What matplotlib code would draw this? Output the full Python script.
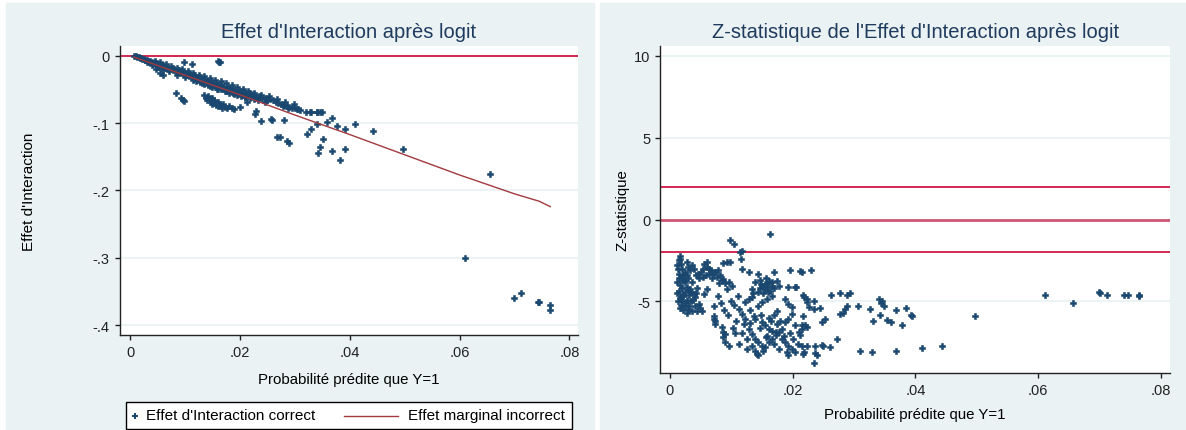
import matplotlib
matplotlib.use('Agg')
import matplotlib.pyplot as plt
from matplotlib.patches import Rectangle
from matplotlib.lines import Line2D
import numpy as np

plt.rcParams['font.family'] = ['Liberation Sans', 'DejaVu Sans']

# ---- left panel: interaction effect vs predicted probability ----
band_x = [0.0007, 0.0010, 0.0013, 0.0016, 0.0018, 0.0020, 0.0022, 0.0025, 0.0027, 0.0030,
          0.0032, 0.0035, 0.0037, 0.0040, 0.0042, 0.0045, 0.0047, 0.0050, 0.0052, 0.0055,
          0.0058, 0.0060, 0.0063, 0.0066, 0.0068, 0.0070, 0.0073, 0.0076, 0.0078, 0.0080,
          0.0083, 0.0086, 0.0088, 0.0090, 0.0093, 0.0096, 0.0098, 0.0100, 0.0103, 0.0106,
          0.0108, 0.0110, 0.0113, 0.0116, 0.0118, 0.0120, 0.0123, 0.0126, 0.0128, 0.0130,
          0.0133, 0.0136, 0.0138, 0.0140, 0.0143, 0.0146, 0.0148, 0.0150, 0.0153, 0.0156,
          0.0158, 0.0160, 0.0163, 0.0166, 0.0168, 0.0170, 0.0173, 0.0176, 0.0178, 0.0180,
          0.0183, 0.0186, 0.0188, 0.0190, 0.0193, 0.0196, 0.0198, 0.0200, 0.0203, 0.0206,
          0.0208, 0.0210, 0.0213, 0.0216, 0.0218, 0.0220, 0.0223, 0.0226, 0.0230, 0.0235,
          0.0240, 0.0245, 0.0250, 0.0255, 0.0260, 0.0265, 0.0270, 0.0275, 0.0280, 0.0285,
          0.0290, 0.0295, 0.0300, 0.0305, 0.0310, 0.0320, 0.0330, 0.0340, 0.0345]
band_y = [-0.000, -0.001, -0.002, -0.002, -0.004, -0.003, -0.005, -0.005, -0.007, -0.006,
          -0.008, -0.009, -0.008, -0.010, -0.012, -0.011, -0.013, -0.014, -0.012, -0.015,
          -0.016, -0.014, -0.017, -0.018, -0.016, -0.019, -0.020, -0.018, -0.021, -0.019,
          -0.022, -0.024, -0.021, -0.023, -0.025, -0.024, -0.027, -0.025, -0.028, -0.026,
          -0.030, -0.028, -0.031, -0.029, -0.033, -0.031, -0.034, -0.032, -0.036, -0.034,
          -0.037, -0.035, -0.039, -0.037, -0.040, -0.038, -0.042, -0.040, -0.043, -0.041,
          -0.045, -0.043, -0.046, -0.044, -0.048, -0.046, -0.049, -0.047, -0.050, -0.048,
          -0.051, -0.049, -0.053, -0.051, -0.054, -0.052, -0.055, -0.053, -0.056, -0.054,
          -0.057, -0.055, -0.058, -0.056, -0.059, -0.057, -0.060, -0.058, -0.061, -0.060,
          -0.062, -0.063, -0.065, -0.064, -0.066, -0.068, -0.070, -0.072, -0.073, -0.075,
          -0.076, -0.077, -0.078, -0.079, -0.080, -0.083, -0.084, -0.084, -0.083]

band2_x = [0.0030, 0.0040, 0.0050, 0.0060, 0.0070, 0.0085, 0.0100, 0.0115, 0.0130, 0.0145,
           0.0160, 0.0175, 0.0190, 0.0210, 0.0225]
band2_y = [-0.010, -0.014, -0.017, -0.021, -0.023, -0.028, -0.031, -0.036, -0.040, -0.045,
           -0.050, -0.053, -0.057, -0.061, -0.064]

band3_x = [0.0045, 0.0055, 0.0065, 0.0075, 0.0085, 0.0095, 0.0105, 0.0115, 0.0125, 0.0135,
           0.0145, 0.0155, 0.0165, 0.0175, 0.0185, 0.0195, 0.0205, 0.0215, 0.0225, 0.0238,
           0.0252, 0.0268, 0.0282, 0.0298]
band3_y = [-0.008, -0.010, -0.013, -0.015, -0.018, -0.020, -0.023, -0.025, -0.028, -0.030,
           -0.033, -0.036, -0.038, -0.041, -0.044, -0.047, -0.050, -0.052, -0.055, -0.058,
           -0.060, -0.064, -0.069, -0.072]

band4_x = [0.0120, 0.0128, 0.0135, 0.0142, 0.0150, 0.0158, 0.0165, 0.0172, 0.0180, 0.0188,
           0.0195, 0.0202, 0.0210, 0.0218, 0.0232, 0.0245]
band4_y = [-0.037, -0.039, -0.042, -0.044, -0.046, -0.049, -0.050, -0.053, -0.055, -0.056,
           -0.058, -0.060, -0.061, -0.063, -0.066, -0.069]

blob_x = [0.0135, 0.0138, 0.0140, 0.0142, 0.0145, 0.0147, 0.0150, 0.0150, 0.0153, 0.0155,
          0.0157, 0.0160, 0.0160, 0.0163, 0.0165, 0.0168, 0.0170, 0.0173, 0.0177, 0.0180,
          0.0185, 0.0190, 0.0200]
blob_y = [-0.058, -0.062, -0.066, -0.060, -0.064, -0.068, -0.062, -0.071, -0.066, -0.070,
          -0.073, -0.068, -0.075, -0.071, -0.074, -0.077, -0.072, -0.076, -0.078, -0.074,
          -0.077, -0.079, -0.076]

out_x = [0.0098, 0.0113, 0.0160, 0.0162, 0.0163, 0.0047, 0.0055, 0.0060,
         0.0084, 0.0092, 0.0096, 0.0098, 0.0213, 0.0229, 0.0227, 0.0238, 0.0256, 0.0258,
         0.0280, 0.0268, 0.0273, 0.0285, 0.0289, 0.0279, 0.0288, 0.0303, 0.0328, 0.0340,
         0.0349, 0.0367, 0.0340, 0.0358, 0.0376, 0.0391, 0.0410, 0.0443, 0.0497, 0.0322,
         0.0329, 0.0351, 0.0345, 0.0342, 0.0368, 0.0391, 0.0383, 0.0655, 0.0610, 0.0699,
         0.0711, 0.0742, 0.0745, 0.0765, 0.0764]
out_y = [-0.009, -0.012, -0.008, -0.009, -0.010, -0.020, -0.026, -0.028,
         -0.056, -0.062, -0.065, -0.067, -0.069, -0.082, -0.087, -0.097, -0.094, -0.095,
         -0.096, -0.121, -0.121, -0.126, -0.129, -0.074, -0.077, -0.079, -0.083, -0.083,
         -0.083, -0.092, -0.101, -0.099, -0.104, -0.109, -0.102, -0.111, -0.138, -0.116,
         -0.108, -0.123, -0.136, -0.144, -0.142, -0.138, -0.155, -0.175, -0.300, -0.359,
         -0.352, -0.366, -0.366, -0.370, -0.378]

# incorrect marginal effect (line)
fit_x = [0.0007, 0.0100, 0.0200, 0.0300, 0.0400, 0.0500, 0.0600, 0.0700, 0.0745, 0.0765]
fit_y = [-0.002, -0.029, -0.058, -0.088, -0.117, -0.147, -0.177, -0.205, -0.216, -0.224]

# ---- right panel: z-statistic ----
zc_x = [0.0016, 0.0017, 0.0014, 0.0011, 0.0013, 0.0018, 0.0020, 0.0025, 0.0030, 0.0036, 0.0039, 0.0033, 0.0028,
        0.0014, 0.0012, 0.0016, 0.0014, 0.0012, 0.0018, 0.0020, 0.0025, 0.0030, 0.0036, 0.0016, 0.0013, 0.0018,
        0.0022, 0.0028,
        0.0030, 0.0036, 0.0033, 0.0039, 0.0041, 0.0047, 0.0052, 0.0022, 0.0025, 0.0020, 0.0024, 0.0028, 0.0031,
        0.0027, 0.0034, 0.0022, 0.0019, 0.0026, 0.0031, 0.0040, 0.0044, 0.0042, 0.0046, 0.0048]
zc_y = [-2.24, -2.40, -2.50, -2.80, -3.00, -2.70, -3.00, -3.20, -2.90, -2.80, -3.00, -3.10, -2.60,
        -3.60, -3.80, -4.00, -4.34, -4.50, -4.64, -4.95, -5.25, -5.45, -5.56, -4.80, -5.00, -5.20,
        -5.50, -5.70,
        -3.60, -3.83, -4.23, -4.54, -4.74, -5.15, -5.56, -3.40, -3.80, -4.20, -4.40, -4.10, -4.60,
        -4.90, -5.00, -4.70, -3.70, -5.10, -5.30, -5.30, -4.20, -3.40, -3.30, -3.60]

zb_x = [0.0055, 0.0060, 0.0066, 0.0074, 0.0079, 0.0082, 0.0060, 0.0054, 0.0070, 0.0063,
        0.0087, 0.0096, 0.0101, 0.0093, 0.0090, 0.0084,
        0.0060, 0.0055, 0.0071, 0.0071, 0.0071, 0.0074, 0.0073,
        0.0085, 0.0087, 0.0090, 0.0090, 0.0096, 0.0087,
        0.0098, 0.0104, 0.0117, 0.0163, 0.0087, 0.0098, 0.0093, 0.0115, 0.0114, 0.0117, 0.0128, 0.0144]
zb_y = [-2.70, -2.90, -3.10, -3.20, -3.10, -3.40, -2.60, -3.00, -3.30, -3.30,
        -3.62, -3.83, -4.03, -4.23, -3.90, -3.70,
        -4.23, -4.54, -5.25, -5.87, -6.07, -6.37, -6.20,
        -6.58, -6.88, -6.98, -7.50, -7.70, -7.20,
        -1.28, -1.49, -1.93, -0.91, -2.65, -2.60, -2.60, -2.40, -2.00, -3.00, -3.20, -3.32]

zm_x = [0.0134, 0.0139, 0.0150, 0.0155, 0.0161, 0.0166, 0.0144, 0.0155, 0.0163, 0.0166,
        0.0128, 0.0134, 0.0123, 0.0150, 0.0158, 0.0166, 0.0158, 0.0152, 0.0147, 0.0160,
        0.0170, 0.0157, 0.0148, 0.0174, 0.0177, 0.0169, 0.0193, 0.0204, 0.0188, 0.0193,
        0.0199, 0.0110, 0.0105, 0.0100]
zm_y = [-4.23, -3.83, -4.03, -3.93, -3.73, -3.83, -4.44, -4.23, -4.34, -4.03,
        -4.85, -4.74, -5.05, -5.05, -4.85, -4.64, -4.10, -4.50, -4.20, -4.45,
        -4.20, -3.60, -3.95, -3.73, -4.03, -3.22, -4.13, -4.13, -4.85, -5.15,
        -5.35, -4.70, -5.20, -5.00]

zl_x = [0.0112, 0.0117, 0.0123, 0.0139, 0.0150, 0.0155, 0.0161, 0.0166, 0.0172, 0.0128,
        0.0134, 0.0139, 0.0144, 0.0150, 0.0155, 0.0161, 0.0166, 0.0172, 0.0177, 0.0182,
        0.0134, 0.0139, 0.0143, 0.0141, 0.0188, 0.0193, 0.0199, 0.0204, 0.0210, 0.0212,
        0.0215, 0.0188, 0.0193, 0.0199, 0.0190, 0.0204, 0.0218, 0.0193, 0.0120, 0.0125,
        0.0118, 0.0108, 0.0102, 0.0146, 0.0158, 0.0170, 0.0178, 0.0183, 0.0148, 0.0162,
        0.0175, 0.0180, 0.0130, 0.0143]
zl_y = [-5.46, -5.76, -6.07, -6.07, -6.27, -6.47, -6.68, -6.78, -6.88, -6.68,
        -6.98, -7.29, -7.50, -7.70, -7.80, -7.50, -7.29, -7.08, -6.88, -6.68,
        -7.70, -8.00, -8.27, -8.20, -6.27, -6.07, -5.76, -6.47, -6.88, -7.08,
        -6.68, -7.50, -7.70, -7.90, -8.10, -8.10, -8.10, -8.30, -6.40, -7.30,
        -6.90, -6.20, -6.60, -6.60, -7.10, -7.60, -7.90, -7.30, -5.80, -6.00,
        -5.60, -6.20, -5.50, -5.30]

ze_x = [0.0015, 0.0019, 0.0023, 0.0027, 0.0021, 0.0017, 0.0029, 0.0035, 0.0038, 0.0043,
        0.0050, 0.0053, 0.0058, 0.0064, 0.0068, 0.0077, 0.0080, 0.0044, 0.0049, 0.0078,
        0.0083, 0.0088, 0.0095, 0.0106, 0.0112, 0.0126, 0.0131, 0.0137, 0.0152, 0.0156,
        0.0165, 0.0169, 0.0175, 0.0185, 0.0196, 0.0201, 0.0208, 0.0146, 0.0136, 0.0158]
ze_y = [-3.30, -3.50, -3.70, -3.40, -4.60, -5.40, -4.30, -4.40, -4.90, -4.50,
        -3.20, -3.50, -3.40, -3.00, -3.60, -3.50, -3.90, -5.60, -5.40, -4.70,
        -5.10, -5.50, -5.80, -6.90, -7.60, -7.90, -6.30, -5.90, -8.00, -7.20,
        -6.20, -5.80, -6.40, -7.10, -6.90, -7.30, -7.60, -3.70, -4.50, -3.95]

zr_x = [0.0196, 0.0212, 0.0215, 0.0229, 0.0206, 0.0218, 0.0223, 0.0226, 0.0220, 0.0215,
        0.0217, 0.0217, 0.0234, 0.0223, 0.0236, 0.0250, 0.0239, 0.0236, 0.0217, 0.0247,
        0.0260, 0.0262, 0.0277, 0.0293, 0.0288, 0.0277, 0.0285, 0.0272, 0.0307, 0.0310,
        0.0326, 0.0329, 0.0345, 0.0343, 0.0348, 0.0340, 0.0342, 0.0331, 0.0353, 0.0360,
        0.0369, 0.0384, 0.0392, 0.0394, 0.0378, 0.0369, 0.0282, 0.0288, 0.0252, 0.0247,
        0.0223, 0.0215, 0.0234, 0.0244, 0.0223, 0.0234, 0.0410, 0.0443, 0.0497, 0.0611,
        0.0656, 0.0699, 0.0700, 0.0712, 0.0740, 0.0746, 0.0765, 0.0764]
zr_y = [-3.10, -3.17, -3.18, -3.11, -4.10, -4.74, -5.05, -5.35, -6.47, -7.70,
        -4.60, -5.90, -8.75, -7.70, -7.70, -7.70, -8.25, -8.16, -8.20, -7.66,
        -7.80, -4.60, -4.50, -4.48, -4.60, -5.76, -5.45, -7.30, -5.25, -8.00,
        -5.45, -8.07, -4.95, -5.09, -5.25, -4.85, -5.82, -6.17, -6.11, -6.27,
        -5.50, -5.41, -5.82, -5.86, -6.43, -8.00, -5.72, -5.25, -6.07, -6.27,
        -6.58, -6.47, -5.46, -5.42, -4.85, -4.95, -7.86, -7.70, -5.90, -4.60,
        -5.07, -4.44, -4.50, -4.60, -4.60, -4.60, -4.62, -4.70]

z_lines = [1.96, 0, -1.96]

xticks = [0, 0.02, 0.04, 0.06, 0.08]
xticklabels = ['0', '.02', '.04', '.06', '.08']
yticks_left = [0, -0.1, -0.2, -0.3, -0.4]
yticklabels_left = ['0', '-.1', '-.2', '-.3', '-.4']
yticks_right = [10, 5, 0, -5]
yticklabels_right = ['10', '5', '0', '-5']

navy = '#1a476f'
red = '#cf1843'
maroon = '#a23a3e'
bg = '#eaf2f3'
title_col = '#1f3b5e'

W, H = 1186, 431
fig = plt.figure(figsize=(W / 100, H / 100), dpi=100, facecolor='white')


def pix(x0, y0, x1, y1):
    return [x0 / W, 1 - y1 / H, (x1 - x0) / W, (y1 - y0) / H]


# panel backgrounds
fig.patches.append(Rectangle((6 / W, 0), (594 - 6) / W, 1 - 4 / H, transform=fig.transFigure,
                             color=bg, zorder=-1))
fig.patches.append(Rectangle((600 / W, 0), (W - 600) / W, 1 - 4 / H, transform=fig.transFigure,
                             color=bg, zorder=-1))

ax1 = fig.add_axes(pix(119.5, 46.7, 578, 336))
ax2 = fig.add_axes(pix(660.3, 46.7, 1170, 374))

for ax in (ax1, ax2):
    ax.set_facecolor('white')
    for s in ('top', 'right'):
        ax.spines[s].set_visible(False)
    for s in ('left', 'bottom'):
        ax.spines[s].set_color('#222222')
        ax.spines[s].set_linewidth(1.0)
    ax.tick_params(direction='out', length=3.5, width=1, colors='#222222', labelsize=10.5, pad=3.5)
    ax.set_xticks(xticks)
    ax.set_xticklabels(xticklabels)
    ax.yaxis.grid(True, color=bg, lw=1.3)
    ax.set_axisbelow(True)

# left panel
ax1.set_xlim(-0.00193, 0.08155)
ax1.set_ylim(-0.4145, 0.0149)
ax1.set_yticks(yticks_left)
ax1.set_yticklabels(yticklabels_left)
ax1.axhline(0, color=red, lw=1.3, zorder=2)
lx = np.concatenate([band_x, band2_x, band3_x, band4_x, blob_x, out_x])
ly = np.concatenate([band_y, band2_y, band3_y, band4_y, blob_y, out_y])
ax1.scatter(lx, ly, s=18, marker='P', color=navy, edgecolors=navy, linewidths=0.4, zorder=3)
ax1.plot(fit_x, fit_y, color=maroon, lw=1.0, zorder=4)
ax1.text(0.5, 1.0498, "Effet d'Interaction après logit", transform=ax1.transAxes,
         ha='center', va='center', fontsize=14.5, color=title_col)
ax1.set_xlabel('Probabilité prédite que Y=1', fontsize=10.8)
ax1.xaxis.set_label_coords(0.5, -0.152)
ax1.xaxis.label.set_va('center')
ax1.set_ylabel("Effet d'Interaction", fontsize=11)
ax1.yaxis.set_label_coords(-0.198, 0.5)
ax1.yaxis.label.set_va('center')

# right panel
ax2.set_xlim(-0.00158, 0.08147)
ax2.set_ylim(-9.37, 10.61)
ax2.set_yticks(yticks_right)
ax2.set_yticklabels(yticklabels_right)
for z in z_lines:
    if z == 0:
        ax2.axhline(z, color='#cf5572', lw=2.0, zorder=2)
    else:
        ax2.axhline(z, color=red, lw=1.3, zorder=2)
rx = np.concatenate([zc_x, zb_x, zm_x, zl_x, ze_x, zr_x])
ry = np.concatenate([zc_y, zb_y, zm_y, zl_y, ze_y, zr_y])
ax2.scatter(rx, ry, s=18, marker='P', color=navy, edgecolors=navy, linewidths=0.4, zorder=3)
ax2.text(0.5, 1.044, "Z-statistique de l'Effet d'Interaction après logit", transform=ax2.transAxes,
         ha='center', va='center', fontsize=14.5, color=title_col)
ax2.set_xlabel('Probabilité prédite que Y=1', fontsize=10.8)
ax2.xaxis.set_label_coords(0.5, -0.1253)
ax2.xaxis.label.set_va('center')
ax2.set_ylabel('Z-statistique', fontsize=10.8)
ax2.yaxis.set_label_coords(-0.0751, 0.5)
ax2.yaxis.label.set_va('center')

# legend box under the left panel (stata style: marker at the left, long line key)
ly0 = 1 - 416.5 / H
fig.add_artist(Rectangle((126 / W, 1 - 430 / H), (572 - 126) / W, 27 / H, transform=fig.transFigure,
                         facecolor='white', edgecolor='black', lw=1.0))
fig.add_artist(Line2D([135 / W], [ly0], marker='P', ms=3.8, mew=0, color=navy,
                      transform=fig.transFigure))
fig.text(146 / W, ly0, "Effet d'Interaction correct", fontsize=11, va='center', ha='left')
fig.add_artist(Line2D([344 / W, 398 / W], [ly0, ly0], color=maroon, lw=1.0,
                      transform=fig.transFigure))
fig.text(408 / W, ly0, 'Effet marginal incorrect', fontsize=11, va='center', ha='left')

fig.savefig('out.png', dpi=100, facecolor='white')
